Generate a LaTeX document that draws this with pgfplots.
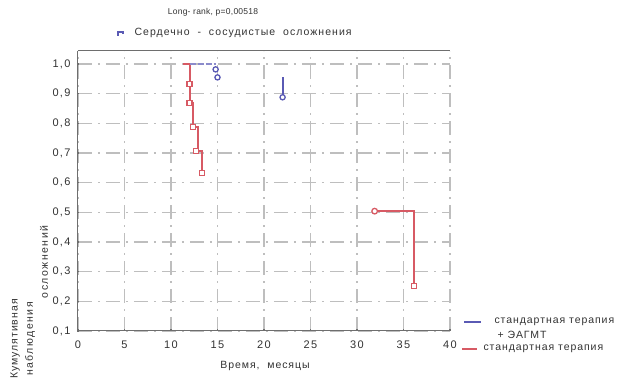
\documentclass[border=0pt]{standalone}
\usepackage{pgfplots}
\pgfplotsset{compat=1.18}
\usepackage{fontspec}
\setmainfont{Liberation Sans}
\definecolor{redc}{RGB}{215,90,100}
\definecolor{bluec}{RGB}{90,90,180}
\definecolor{gridc}{RGB}{190,190,190}
\definecolor{axc}{RGB}{110,110,110}
\definecolor{txt}{RGB}{50,50,50}
\newcommand{\lbl}{\fontsize{10.5}{12}\selectfont\addfontfeatures{LetterSpace=9}}
\newcommand{\ylbl}{\fontsize{10.5}{12}\selectfont\addfontfeatures{LetterSpace=14}}
\begin{document}
\begin{tikzpicture}
\useasboundingbox (-78pt,-48pt) rectangle (547pt,331pt);
\begin{axis}[
  at={(0pt,0pt)}, anchor=south west,
  scale only axis, width=372pt, height=280pt,
  xmin=0, xmax=40, ymin=0.1, ymax=1.044,
  axis x line=box, axis y line=left,
  xtick={0,5,...,40}, ytick={0.1,0.2,0.3,0.4,0.5,0.6,0.7,0.8,0.9,1.0},
  xtick pos=bottom, ytick pos=left,
  major tick length=2pt,
  every tick/.style={axc, line width=1.5pt},
  axis line style={axc, line width=1pt, -},
  tick label style={font=\fontsize{11}{12}\selectfont\addfontfeatures{LetterSpace=12}, color=txt},
  xticklabel style={yshift=-6pt},
  yticklabel style={xshift=-3pt},
  /pgf/number format/assume math mode=true,
  yticklabel style={/pgf/number format/.cd, use comma, fixed, fixed zerofill, precision=1},
  grid=major,
  major grid style={gridc, line width=1.1pt, dash pattern=on 14pt off 6pt on 2pt off 6pt},
  clip=false,
]
% red series (standard therapy)
\addplot[color=redc, line width=2pt, mark=none] coordinates {
 (11.3,1.0) (12.0,1.0) (12.0,0.868) (12.4,0.868) (12.4,0.787) (12.9,0.787) (12.9,0.706) (13.3,0.706) (13.3,0.632)};
\addplot[color=redc, only marks, mark=square*, mark size=2.5pt, mark options={draw=redc, fill=white, line width=1.3pt}] coordinates {
 (12.0,0.932) (12.0,0.868) (12.4,0.787) (12.7,0.706) (13.3,0.632)};
\addplot[color=redc, line width=1.8pt, mark=none] coordinates {(31.9,0.504) (36.1,0.504) (36.1,0.252)};
\addplot[color=redc, only marks, mark=*, mark size=2.8pt, mark options={draw=redc, fill=white, line width=1.3pt}] coordinates {(31.9,0.504)};
\addplot[color=redc, only marks, mark=square*, mark size=2.5pt, mark options={draw=redc, fill=white, line width=1.3pt}] coordinates {(36.1,0.252)};
% blue series (standard therapy + EAGMT)
\addplot[color=bluec!70, line width=1.6pt, dash pattern=on 6pt off 2pt, mark=none] coordinates {(12.0,1.0) (14.8,1.0)};
\addplot[color=bluec, line width=2pt, mark=none] coordinates {(22.0,0.955) (22.0,0.888)};
\addplot[color=bluec, only marks, mark=*, mark size=2.6pt, mark options={draw=bluec, fill=white, line width=1.3pt}] coordinates {(14.8,0.982) (15.0,0.955) (22.0,0.888)};
\end{axis}
% titles
\node[font=\fontsize{8.5}{10}\selectfont\addfontfeatures{LetterSpace=3}, color=txt] at (135pt,319pt) {Long- rank, p=0,00518};
\draw[bluec, line width=1.2pt] (40pt,295pt) -- (40pt,299pt) -- (45pt,299pt) -- (45pt,297pt);
\node[anchor=west, font=\fontsize{10.5}{12}\selectfont\addfontfeatures{LetterSpace=10}, color=txt] at (53pt,298pt) {Сердечно \ - \ сосудистые \ осложнения};
% x label
\node[font=\lbl, color=txt] at (187pt,-35pt) {Время, \ месяцы};
% y label (three rotated lines)
\node[rotate=90, font=\ylbl, color=txt] at (-34pt,69pt) {осложнений};
\node[rotate=90, font=\ylbl, color=txt] at (-48pt,-8pt) {наблюдения};
\node[rotate=90, font=\lbl, color=txt] at (-63pt,-8pt) {Кумулятивная};
% bottom-right legend
\draw[bluec, line width=1.4pt] (386pt,9pt) -- (403pt,9pt);
\node[anchor=west, font=\lbl, color=txt] at (413pt,9pt) {стандартная терапия};
\node[anchor=west, font=\lbl, color=txt] at (416pt,-4pt) {+ ЭАГМТ};
\draw[redc, line width=1.4pt] (384pt,-18pt) -- (399pt,-18pt);
\node[anchor=west, font=\lbl, color=txt] at (402pt,-18pt) {стандартная терапия};
\end{tikzpicture}
\end{document}
